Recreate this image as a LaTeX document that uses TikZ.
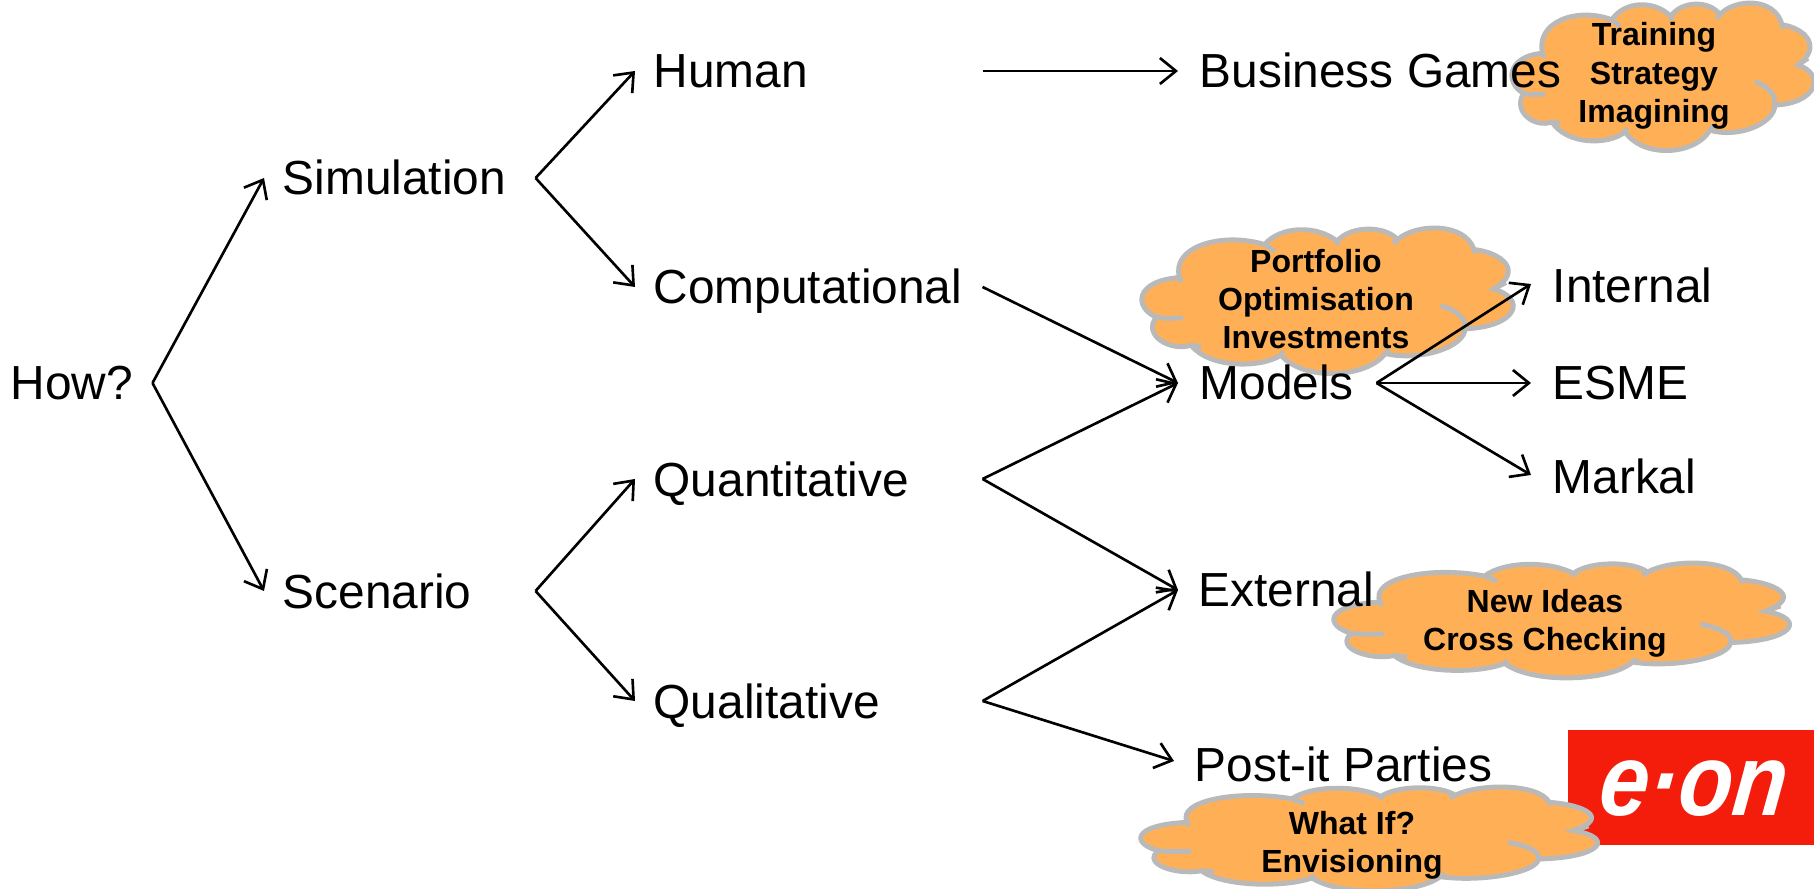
\documentclass[tikz,border=0pt]{standalone}
\usepackage{fontspec}
\setmainfont{Liberation Sans}
\usetikzlibrary{arrows.meta}
\definecolor{cloudfill}{HTML}{FFB056}
\definecolor{cloudline}{HTML}{B9B9B9}
\definecolor{eonred}{HTML}{F41C0A}
\tikzset{cloudblob/.pic={
        \draw [cloudline,fill=cloudfill,line width=1.4pt] (35,270) .. controls (-20,240) and (-18,160) .. (92,150)
                .. controls (70,60) and (190,10) .. (300,50)
                .. controls (340,-8) and (430,-8) .. (477,40)
                .. controls (510,-8) and (595,-8) .. (625,35)
                .. controls (670,-14) and (790,-18) .. (812,65)
                .. controls (880,75) and (935,130) .. (860,185)
                .. controls (945,215) and (915,300) .. (790,305)
                .. controls (790,360) and (680,405) .. (595,380)
                .. controls (550,455) and (395,465) .. (340,385)
                .. controls (290,425) and (165,425) .. (120,355)
                .. controls (70,375) and (0,325) .. (35,270) -- cycle;
        \draw [cloudline,line width=1.4pt] (35,270) .. controls (55,275) and (80,273) .. (100,272)
                (92,150) -- (95,165)
                (300,50) -- (325,70)
                (477,40) -- (480,52)
                (625,35) -- (615,47)
                (812,65) -- (815,77)
                (860,185) -- (890,165)
                (730,235) .. controls (775,250) and (795,280) .. (790,305)
                (595,380) -- (605,368)
                (340,385) -- (345,373)
                (120,355) -- (145,360);
}}

\begin{document}
\begin{tikzpicture}[x=0.01cm,y=-0.01cm,>={Straight Barb[length=1.6mm,width=2.6mm]}]
        \tikzstyle{label}=[anchor=west,inner xsep=0.18cm,inner ysep=0pt,text height=0.34cm,text depth=0pt,font=\fontsize{13.6}{16}\selectfont]
        \tikzstyle{leaflabel}=[label,inner xsep=0.21cm]
        \tikzstyle{cloudtext}=[align=center,inner sep=0pt,font=\fontsize{9.1}{10.9}\selectfont\bfseries]
        \tikzstyle{link}=[black,line width=0.75pt,->]
        \clip (0,0) rectangle (1814,889);
        \fill [eonred] (1568,730) rectangle (1814,845);
        \node [white,inner sep=0pt,xscale=0.87,xslant=0.12,transform shape,font=\fontsize{29}{30}\selectfont\bfseries\itshape] (eonlogo) at (1694,789) {e·on};
        \pic [shift={(1512,3)},xscale=0.3326,yscale=0.3348] {cloudblob};
        \pic [shift={(1142,228)},xscale=0.4088,yscale=0.3303] {cloudblob};
        \pic [shift={(1334,563)},xscale=0.5017,yscale=0.2607] {cloudblob};
        \pic [shift={(1141,787)},xscale=0.5028,yscale=0.2360] {cloudblob};
        \node [cloudtext] (trainingtext) at (1654,76) {Training\\Strategy\\Imagining};
        \node [cloudtext] (portfoliotext) at (1316,299) {Portfolio\\Optimisation\\Investments};
        \node [cloudtext] (ideastext) at (1545,623) {New Ideas\\Cross Checking};
        \node [cloudtext] (whatiftext) at (1352,845) {What If?\\Envisioning};
        \node [label,text width=1.23cm] (how) at (-8,383) {How?};
        \node [label,text width=2.34cm] (simulation) at (264,178) {Simulation};
        \node [label,text width=2.34cm] (scenario) at (264,591) {Scenario};
        \node [label,text width=3.10cm] (human) at (635,71) {Human};
        \node [label,text width=3.10cm] (computational) at (635,287) {Computational};
        \node [label,text width=3.10cm] (quantitative) at (635,479) {Quantitative};
        \node [label,text width=3.10cm] (qualitative) at (635,701) {Qualitative};
        \node [leaflabel] (games) at (1178,71) {Business Games};
        \node [leaflabel,text width=1.55cm] (models) at (1178,383) {Models};
        \node [leaflabel,inner xsep=0.2cm] (external) at (1178,590) {External};
        \node [leaflabel,inner xsep=0.2cm,text height=0.40cm] (postit) at (1174,761) {Post-it Parties};
        \node [leaflabel,text height=0.38cm] (internal) at (1531,284) {Internal};
        \node [leaflabel] (esme) at (1531,383) {ESME};
        \node [leaflabel,text height=0.38cm] (markal) at (1531,475) {Markal};
        \draw [link] (how.east) -- (simulation.west);
        \draw [link] (how.east) -- (scenario.west);
        \draw [link] (simulation.east) -- (human.west);
        \draw [link] (simulation.east) -- (computational.west);
        \draw [link] (scenario.east) -- (quantitative.west);
        \draw [link] (scenario.east) -- (qualitative.west);
        \draw [link] (human.east) -- (games.west);
        \draw [link] (computational.east) -- (models.west);
        \draw [link] (quantitative.east) -- (models.west);
        \draw [link] (quantitative.east) -- (external.west);
        \draw [link] (qualitative.east) -- (external.west);
        \draw [link] (qualitative.east) -- (postit.west);
        \draw [link] (models.east) -- (internal.west);
        \draw [link] (models.east) -- (esme.west);
        \draw [link] (models.east) -- (markal.west);
\end{tikzpicture}
\end{document}
